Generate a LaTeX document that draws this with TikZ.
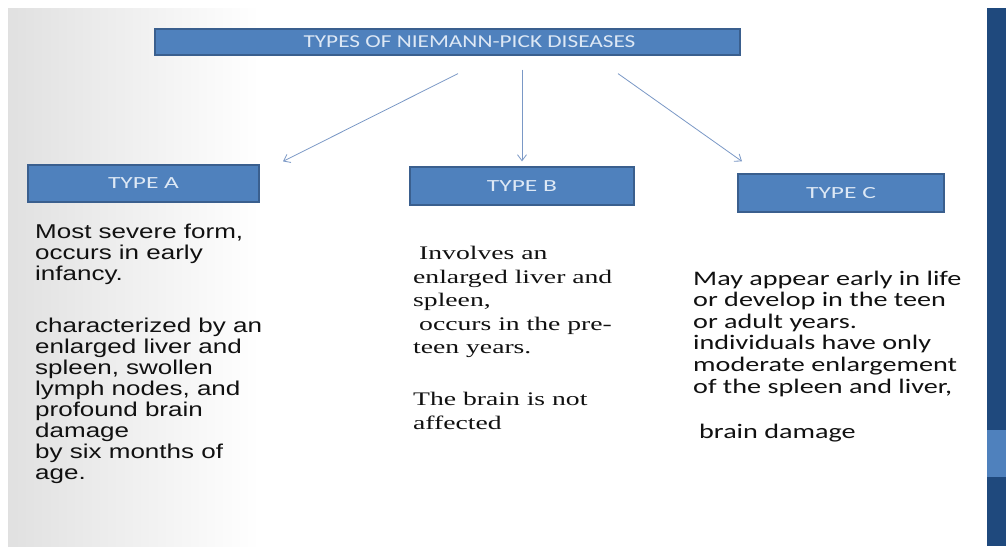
\documentclass[tikz,border=0pt]{standalone}
\usepackage{fontspec}
\usetikzlibrary{arrows.meta}
\newfontfamily\titlefont[FakeStretch=1.28]{Carlito}
\newfontfamily\labfont[FakeStretch=1.5]{Carlito}
\newfontfamily\afont[FakeStretch=1.3]{Liberation Sans}
\newfontfamily\bfont[FakeStretch=1.44]{Liberation Serif}
\newfontfamily\cfont[FakeStretch=1.36]{Carlito}
\definecolor{boxblue}{HTML}{4F81BD}
\definecolor{boxedge}{HTML}{3A5F8E}
\definecolor{boxtext}{HTML}{DDE8F5}
\definecolor{arrowcol}{HTML}{7A98C6}
\definecolor{stripdark}{HTML}{1F497D}
\definecolor{stripband}{HTML}{4F81BD}
\definecolor{bodytext}{HTML}{111111}
\begin{document}
\begin{tikzpicture}[x=1pt,y=-1pt,
  typebox/.style={draw=boxedge, line width=1.2pt, fill=boxblue, text=boxtext,
    inner sep=0pt, font=\labfont\fontsize{17}{20}\selectfont},
  bodytxt/.style={anchor=north west, align=left, inner sep=0pt, text=bodytext},
  arr/.style={draw=arrowcol, line width=0.8pt, -{Straight Barb[length=6pt,width=9pt]}}
]
\useasboundingbox (0,0) rectangle (1006,546);
% slide background
\fill[white] (0,0) rectangle (1006,546);
\shade[left color=black!12, right color=white] (8,8) rectangle (260,546);
% right strip
\fill[stripdark] (987,8) rectangle (1006,546);
\fill[stripband] (987,430) rectangle (1006,477);

% boxes
\node[typebox, minimum width=585pt, minimum height=26pt,
  font=\titlefont\fontsize{18.2}{22}\selectfont] (title) at (447.5,42) {\hspace*{44pt}TYPES OF NIEMANN-PICK DISEASES};
\node[typebox, minimum width=231pt, minimum height=37pt] (tA) at (143.5,183.5) {TYPE A};
\node[typebox, minimum width=224pt, minimum height=38pt] (tB) at (522,186) {TYPE B};
\node[typebox, minimum width=206pt, minimum height=38pt] (tC) at (841,193) {TYPE C};

% arrows
\draw[arr] ([shift={(10.5,18)}]title.south) -- ([shift={(139.5,-3)}]tA.north);
\draw[arr] ([shift={(74.5,14)}]title.south) -- ([shift={(0,-5)}]tB.north);
\draw[arr] ([shift={(170.5,18)}]title.south) -- ([shift={(-99,-12)}]tC.north);

% texts
\node[bodytxt, font=\afont\fontsize{20}{21}\selectfont] (txA) at (35,223.5) {%
Most severe form,\\ occurs in early\\ infancy.\\[31pt]
characterized by an\\ enlarged liver and\\ spleen, swollen\\ lymph nodes, and\\
profound brain\\ damage\\ by six months of\\ age.};
\node[bodytxt, font=\bfont\fontsize{19.2}{23.5}\selectfont] (txB) at (413,246) {%
\hspace*{6pt}Involves an\\ enlarged liver and\\ spleen,\\ \hspace*{6pt}occurs in the pre-\\
teen years.\\[28.5pt] The brain is not\\ affected};
\node[bodytxt, font=\cfont\fontsize{20.7}{21.6}\selectfont] (txC) at (693,270.5) {%
May appear early in life\\ or develop in the teen\\ or adult years.\\
individuals have only\\ moderate enlargement\\ of the spleen and liver,\\[23.4pt]
\hspace*{6pt}brain damage};
\end{tikzpicture}
\end{document}
